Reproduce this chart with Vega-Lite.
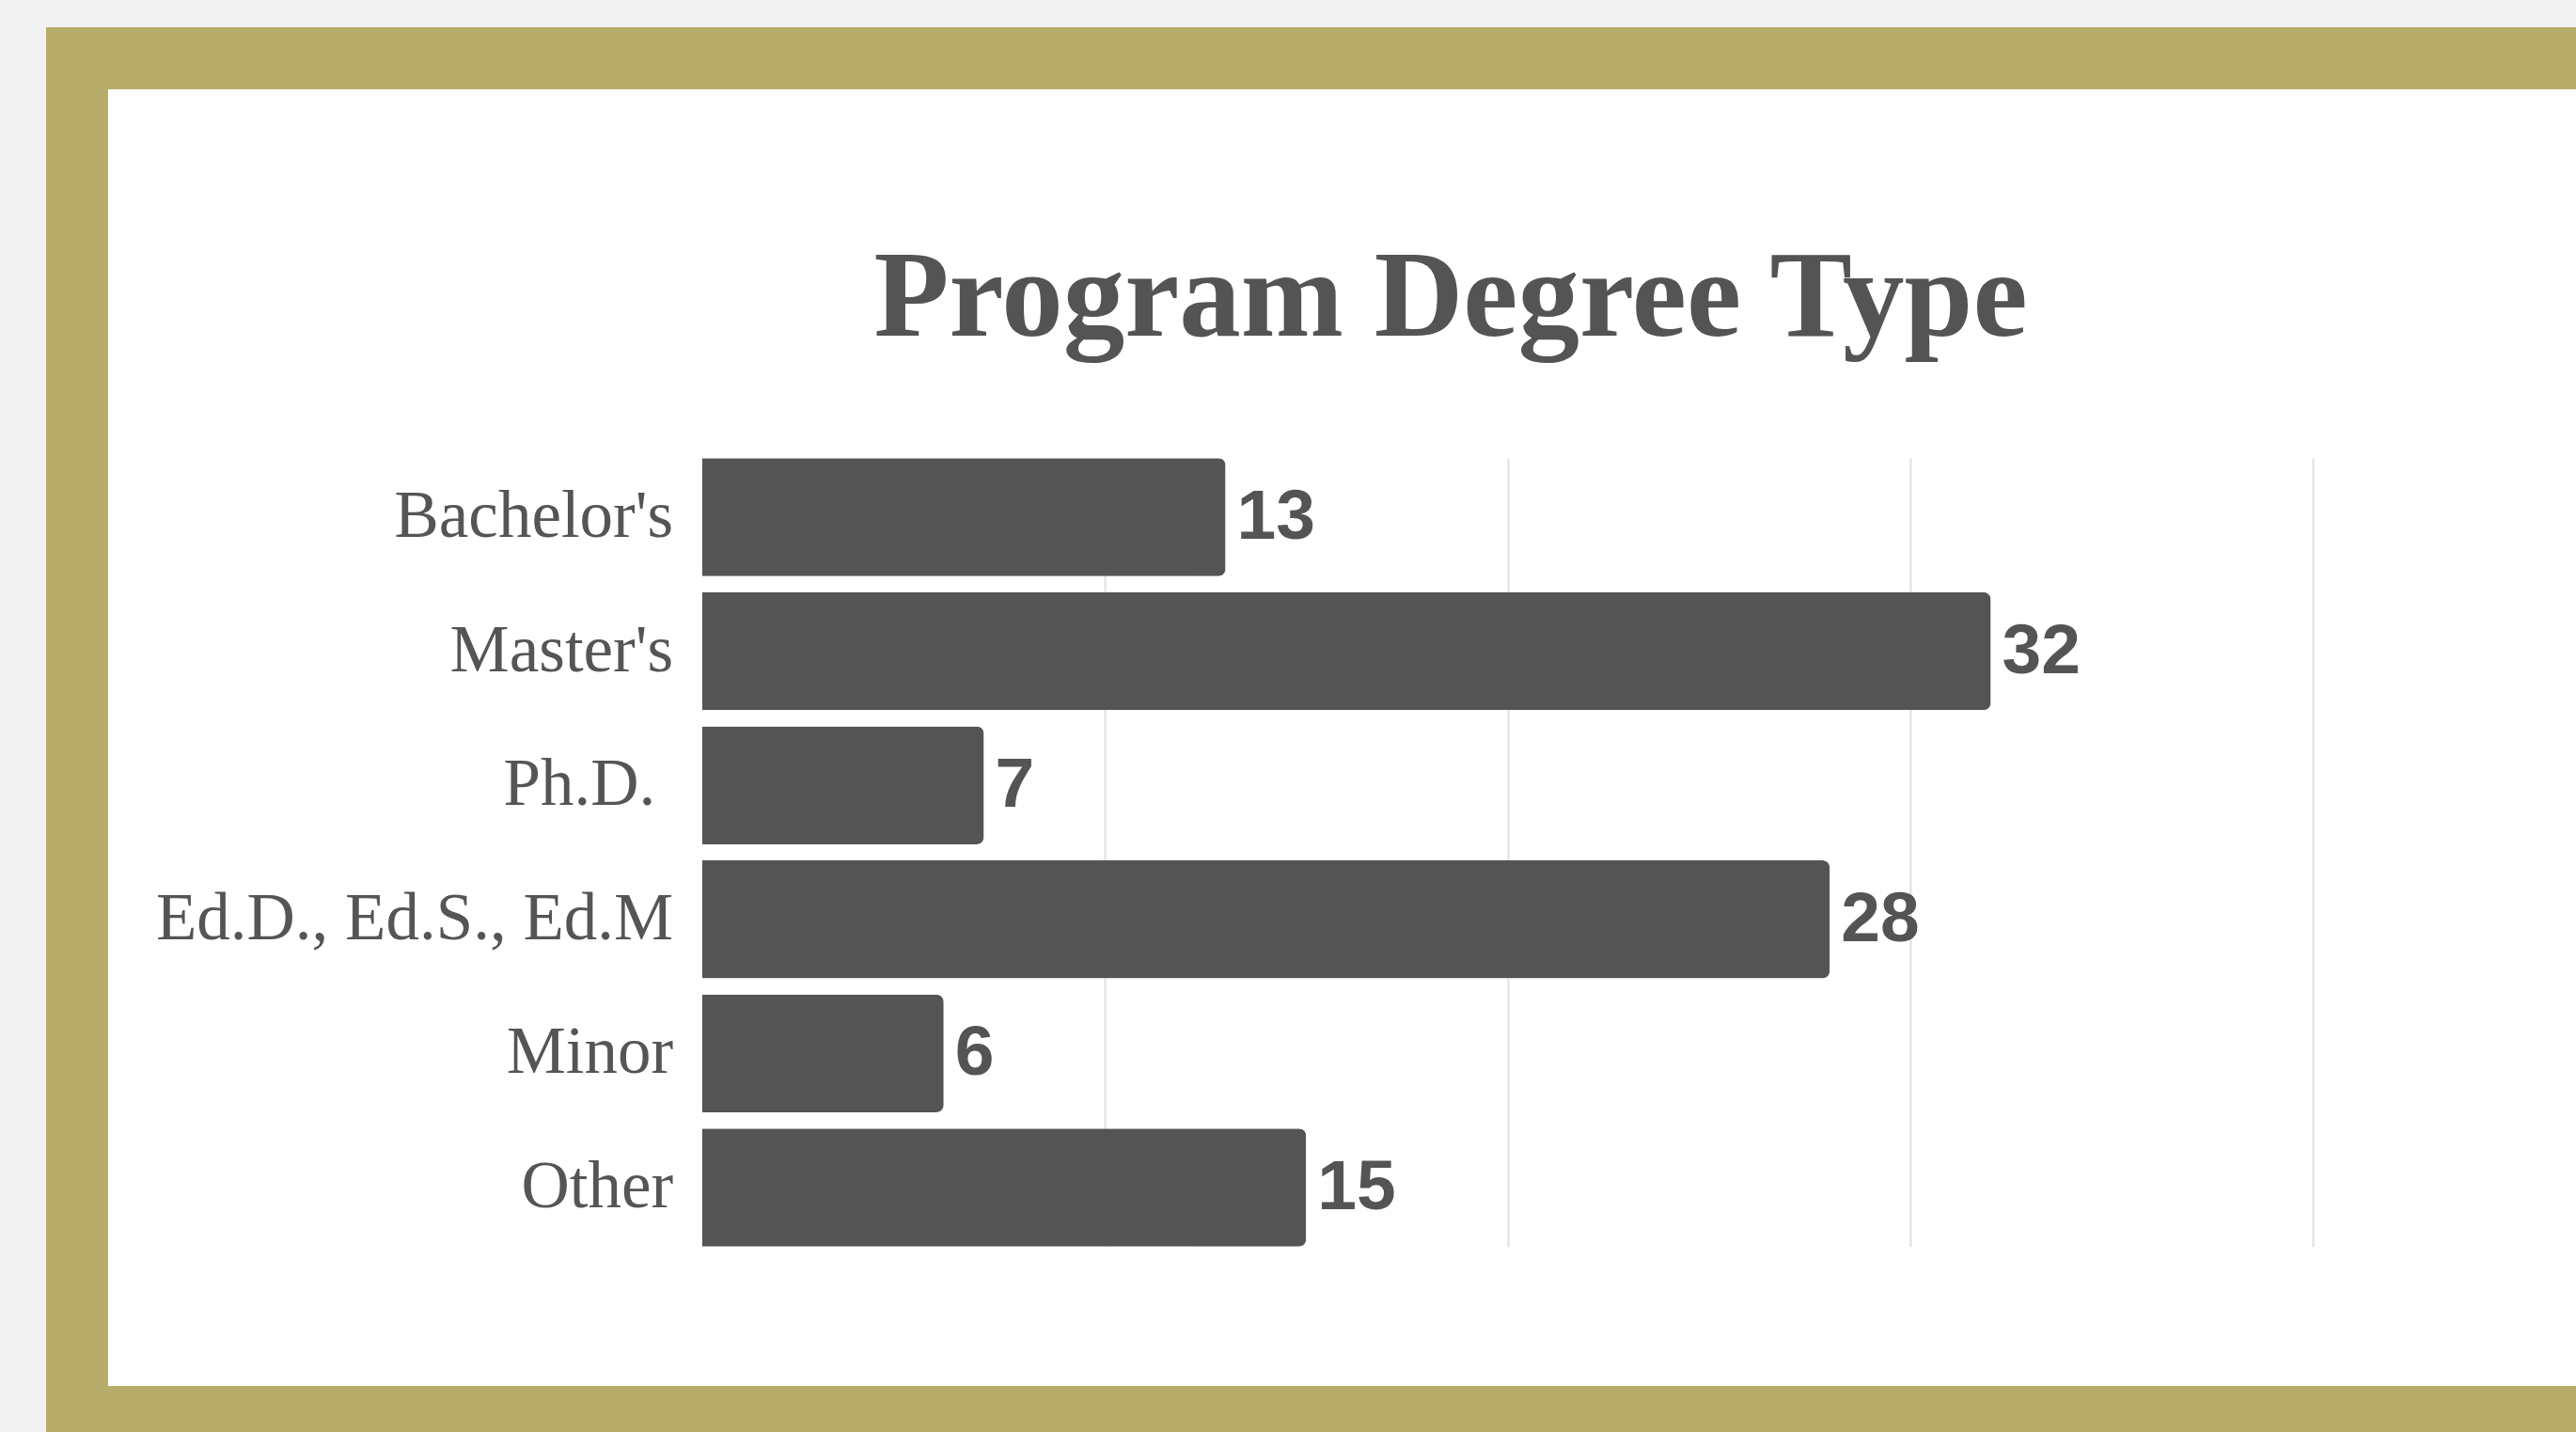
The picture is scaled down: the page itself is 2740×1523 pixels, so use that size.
{
  "$schema": "https://vega.github.io/schema/vega-lite/v6.json",
  "width": 2658,
  "height": 1445,
  "autosize": {"type": "none"},
  "padding": {"left": 82, "top": 62, "right": 0, "bottom": 16},
  "background": "#f2f2f2",
  "view": {
    "fill": "#ffffff",
    "stroke": "#b8ac6a",
    "strokeWidth": 66,
    "strokeDash": [2658, 1445, 4103],
    "strokeCap": "square"
  },
  "title": {
    "text": "Program Degree Type",
    "font": "Liberation Serif",
    "fontSize": 131,
    "fontWeight": "bold",
    "color": "#545454",
    "anchor": "middle",
    "frame": "group",
    "dx": 132,
    "offset": -426,
    "baseline": "alphabetic"
  },
  "data": {
    "values": [
      {"degree": "Bachelor's", "count": 13},
      {"degree": "Master's", "count": 32},
      {"degree": "Ph.D.", "count": 7},
      {"degree": "Ed.D., Ed.S., Ed.M", "count": 28},
      {"degree": "Minor", "count": 6},
      {"degree": "Other", "count": 15}
    ]
  },
  "encoding": {
    "y": {
      "field": "degree",
      "type": "nominal",
      "sort": null,
      "scale": {"range": [425.3, 1263.7], "paddingInner": 0.12, "paddingOuter": 0},
      "axis": {
        "title": null,
        "offset": -664.7,
        "ticks": false,
        "tickSize": 0,
        "domain": false,
        "grid": false,
        "labelPadding": {"condition": {"test": "datum.value === 'Ph.D.'", "value": 50}, "value": 31},
        "labelLimit": 0,
        "labelFont": "Liberation Serif",
        "labelFontSize": 71,
        "labelColor": "#555555"
      }
    },
    "x": {
      "field": "count",
      "type": "quantitative",
      "scale": {"domain": [0, 40], "range": [664.7, 2378.3], "nice": false},
      "axis": {
        "title": null,
        "orient": "top",
        "values": [10, 20, 30, 40],
        "labels": false,
        "ticks": false,
        "domain": false,
        "grid": true,
        "gridColor": "#e0e0e0",
        "gridWidth": 2
      }
    }
  },
  "layer": [
    {"mark": {"type": "bar", "color": "#545454", "cornerRadiusEnd": 8}},
    {
      "mark": {
        "type": "text",
        "align": "left",
        "baseline": "middle",
        "dx": 12,
        "font": "Liberation Sans",
        "fontWeight": "bold",
        "fontSize": 75,
        "color": "#545454"
      },
      "encoding": {"text": {"field": "count", "type": "quantitative"}}
    }
  ]
}
